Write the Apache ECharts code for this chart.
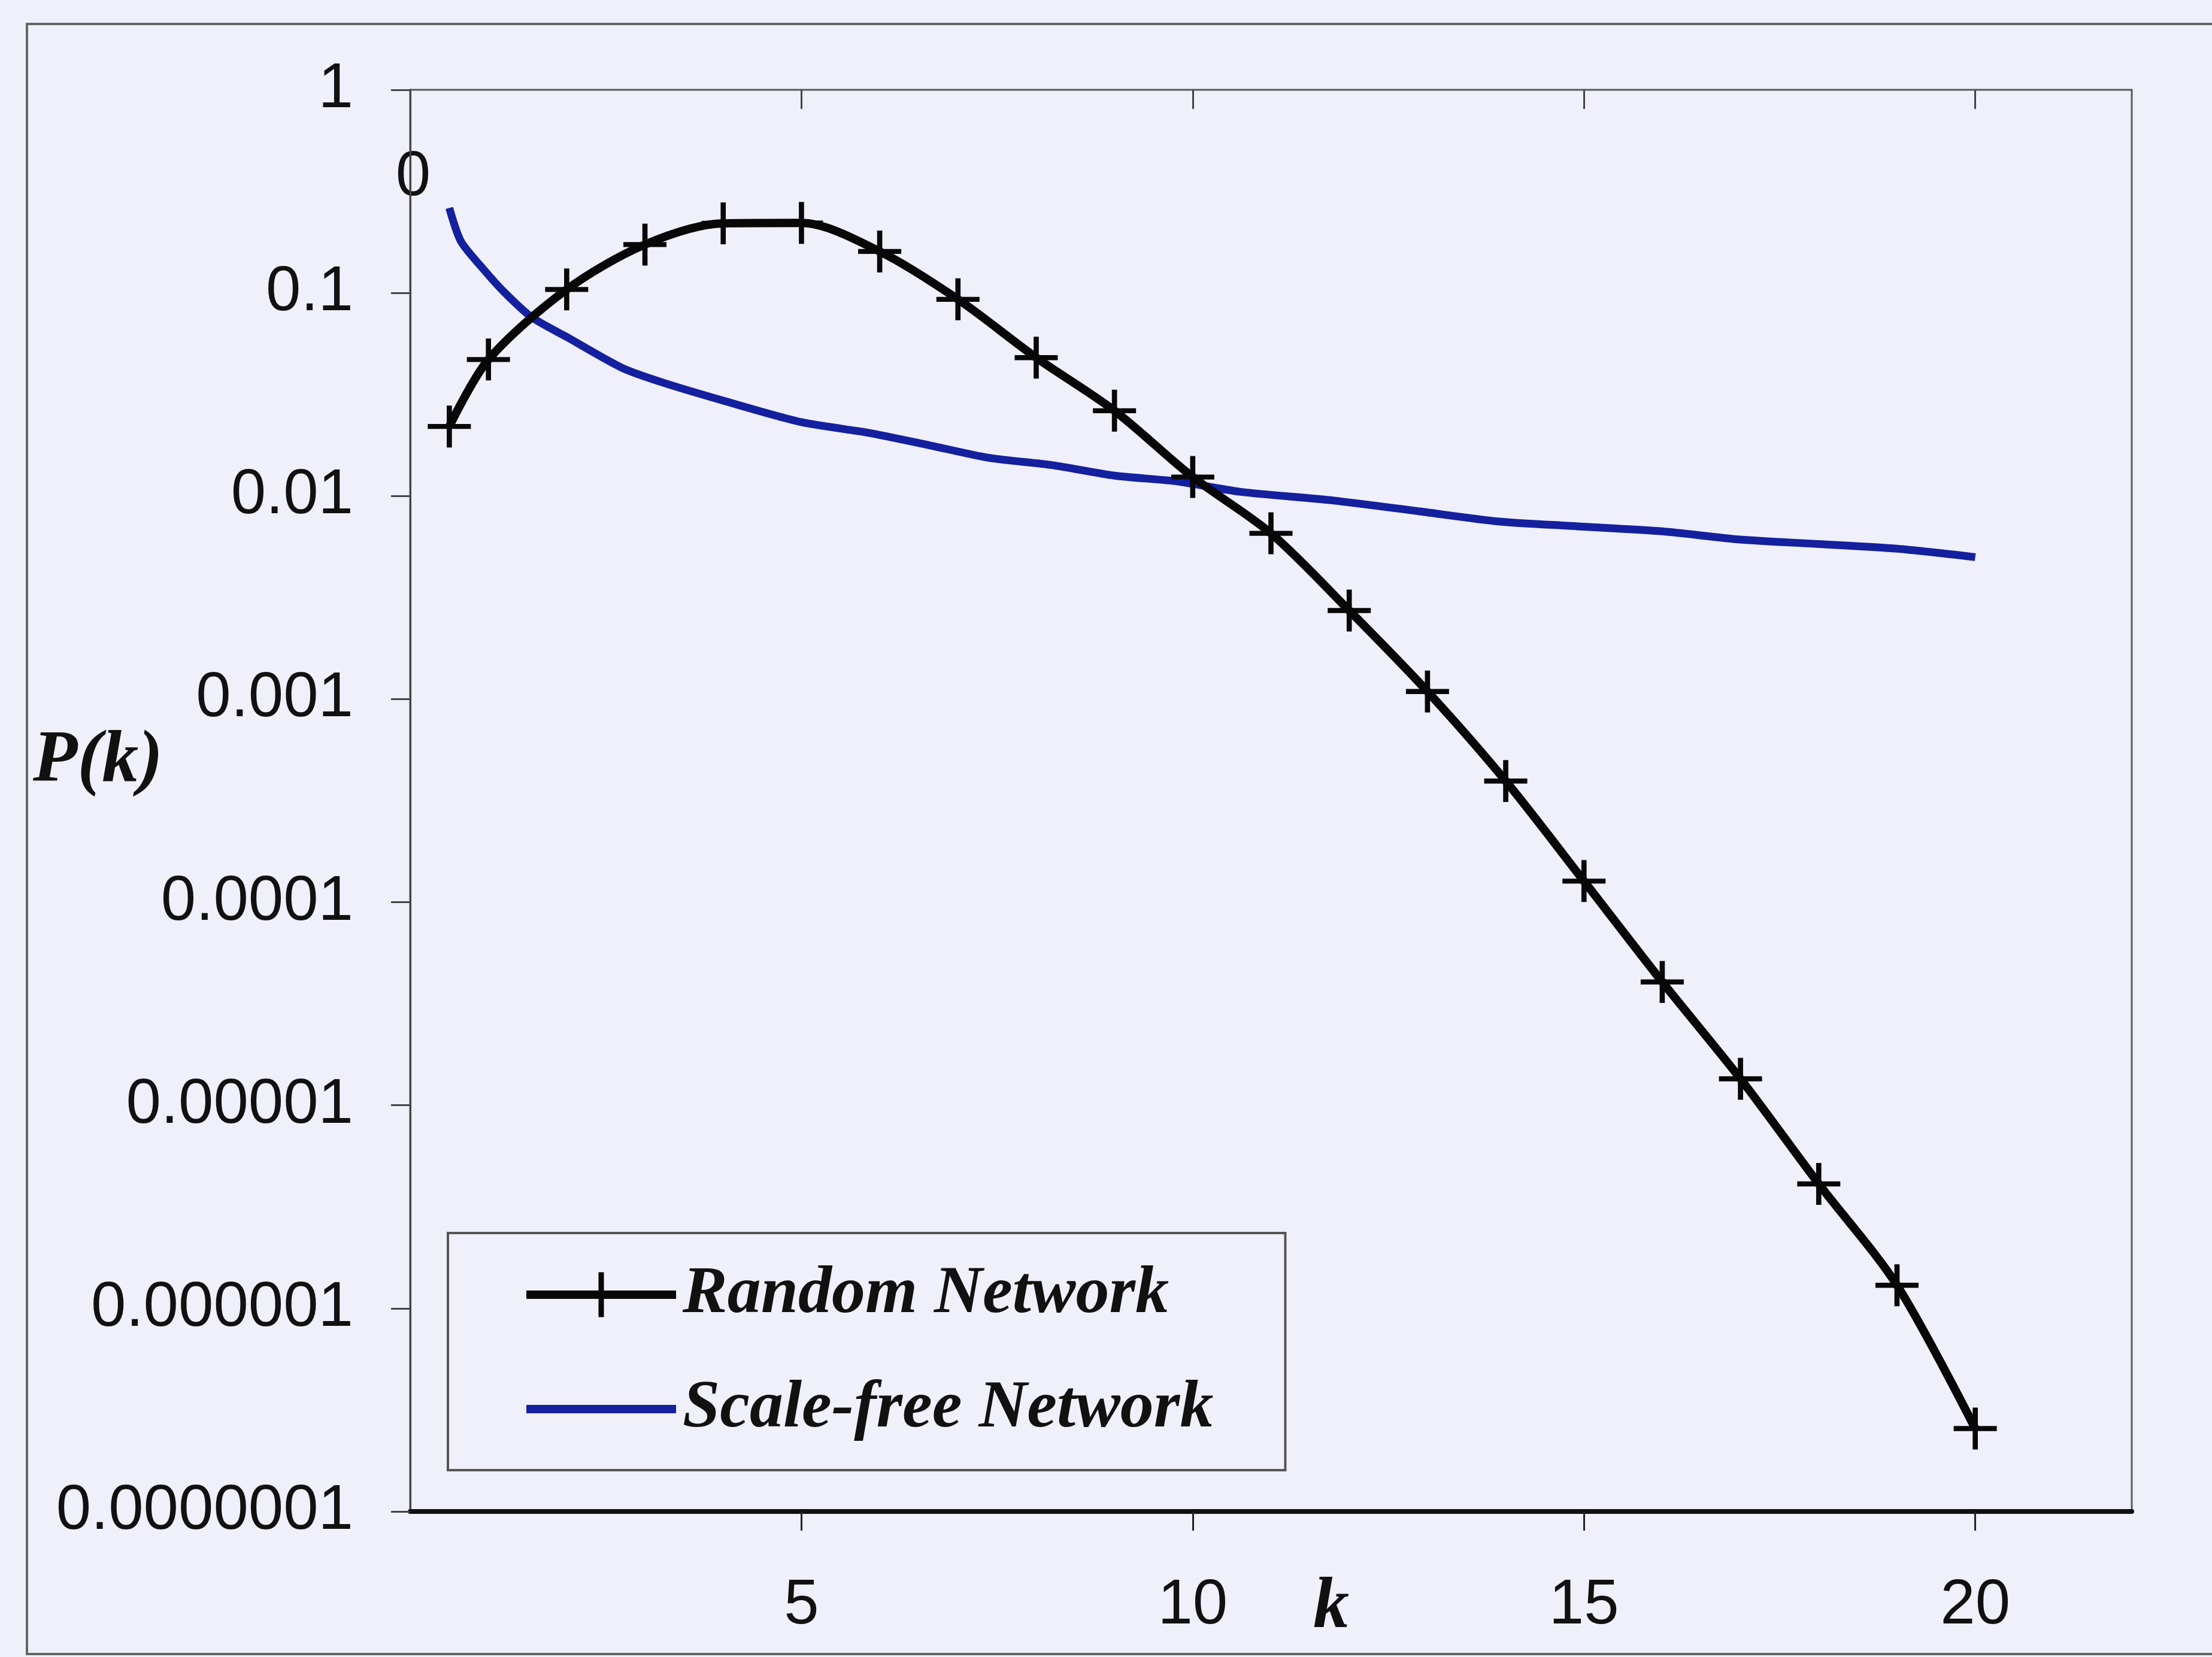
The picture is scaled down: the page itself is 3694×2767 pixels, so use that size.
<!DOCTYPE html>
<html>
<head>
<meta charset="utf-8">
<script src="https://cdn.jsdelivr.net/npm/echarts@6/dist/echarts.min.js"></script>
<style>
html,body{margin:0;padding:0;background:#eff0f9;}
#c{width:3694px;height:2767px;}
</style>
</head>
<body>
<div id="c"></div>
<script>
// ---- data ----
const randomK = [0.5, 1, 2, 3, 4, 5, 6, 7, 8, 9, 10, 11, 12, 13, 14, 15, 16, 17, 18, 19, 20];
const randomP = [0.022, 0.047, 0.104, 0.173, 0.220, 0.221, 0.160, 0.093, 0.048, 0.0263, 0.0124,
                 0.00655, 0.00273, 0.00109, 0.000395, 0.000127, 0.0000405, 0.0000135, 0.0000041, 0.0000013, 0.000000256];
const scaleFreeK = [0.5, 0.65, 0.95, 1.2, 1.55, 2, 2.7, 3.2, 4, 5, 5.85, 6.6, 7.4, 8.2, 9, 9.8, 10.6,
                    11.8, 12.9, 13.9, 14.9, 16, 17, 18, 19, 20];
const scaleFreeP = [0.262, 0.179, 0.129, 0.101, 0.076, 0.0607, 0.0429, 0.0365, 0.0295, 0.0231, 0.0205,
                    0.0179, 0.0154, 0.0142, 0.0126, 0.0118, 0.0105, 0.0095, 0.0084, 0.0075, 0.0071,
                    0.0067, 0.0061, 0.0058, 0.0055, 0.0050];
const xTickValues = [5, 10, 15, 20];
const yTickLabels = ['1', '0.1', '0.01', '0.001', '0.0001', '0.00001', '0.000001', '0.0000001'];
const seriesNames = ['Random Network', 'Scale-free Network'];
const yAxisTitle = 'P(k)';
const xAxisTitle = 'k';
const strayLabel = '0';

const SANS = "'Liberation Sans', Arial, sans-serif";
const SERIF = "'Liberation Serif', 'Times New Roman', serif";
const PLUS = 'path://M0,44h100v12h-100z M44,0h12v100h-12z';
const BLACK = '#080808';
const BLUE = '#14209e';

const chart = echarts.init(document.getElementById('c'), null, {renderer: 'canvas'});

const option = {
  animation: false,
  backgroundColor: '#eff0f9',
  grid: {
    left: 685, top: 150, right: 134, bottom: 243,
    show: true, borderColor: '#5a5a5a', borderWidth: 3, backgroundColor: 'transparent'
  },
  xAxis: [
    {
      type: 'value', min: 0, max: 22, position: 'bottom',
      axisLine: {show: true, onZero: false, lineStyle: {color: '#111', width: 8}},
      axisTick: {show: true, inside: false, length: 32, customValues: xTickValues,
                 lineStyle: {color: '#222', width: 3}},
      axisLabel: {customValues: xTickValues, margin: 106, fontSize: 105, color: '#111', fontFamily: SANS},
      splitLine: {show: false}
    },
    {
      type: 'value', min: 0, max: 22, position: 'top',
      axisLine: {show: false},
      axisTick: {show: true, inside: true, length: 32, customValues: xTickValues,
                 lineStyle: {color: '#444', width: 3}},
      axisLabel: {show: false},
      splitLine: {show: false}
    }
  ],
  yAxis: {
    type: 'log', logBase: 10, min: 1e-7, max: 1,
    axisLine: {show: true, lineStyle: {color: '#444', width: 3}},
    axisTick: {show: true, length: 32, lineStyle: {color: '#444', width: 3}},
    axisLabel: {
      margin: 95, fontSize: 105, color: '#111', fontFamily: SANS,
      formatter: function (v) { return yTickLabels[Math.round(-Math.log10(v))] || ''; }
    },
    splitLine: {show: false},
    minorTick: {show: false}
  },
  legend: {
    orient: 'vertical', left: 748, top: 2059,
    padding: [47, 120, 46, 124],
    itemWidth: 250, itemHeight: 94, itemGap: 79,
    borderColor: '#555', borderWidth: 4, backgroundColor: 'transparent',
    selectedMode: false,
    lineStyle: {width: 14},
    data: [
      {name: seriesNames[0], lineStyle: {width: 14, color: BLACK}, itemStyle: {color: BLACK}},
      {name: seriesNames[1], lineStyle: {width: 14, color: BLUE}, itemStyle: {color: 'rgba(0,0,0,0)', opacity: 0, borderWidth: 0}}
    ],
    textStyle: {fontFamily: SERIF, fontStyle: 'italic', fontWeight: 'bold', fontSize: 112,
                lineHeight: 112, color: '#111', padding: [0, 0, 0, 6]}
  },
  series: [
    {
      name: seriesNames[1], type: 'line', xAxisIndex: 0,
      data: scaleFreeK.map((k, i) => [k, scaleFreeP[i]]),
      symbol: 'none', smooth: 0.25,
      lineStyle: {color: BLUE, width: 13},
      itemStyle: {color: BLUE},
      z: 2
    },
    {
      name: seriesNames[0], type: 'line', xAxisIndex: 0,
      data: randomK.map((k, i) => [k, randomP[i]]),
      symbol: PLUS, symbolSize: [72, 70], showSymbol: true, smooth: 0.3,
      lineStyle: {color: BLACK, width: 14},
      itemStyle: {color: BLACK, borderWidth: 0},
      z: 3
    }
  ],
  graphic: [
    {
      type: 'rect', silent: true, z: 0,
      shape: {x: 45, y: 40, width: 3700, height: 2722},
      style: {fill: 'none', stroke: '#666', lineWidth: 4}
    },
    {
      type: 'text', silent: true,
      style: {text: yAxisTitle, x: 55, y: 1272, font: 'italic bold 122px ' + SERIF,
              fill: '#111', textAlign: 'left', textVerticalAlign: 'middle'}
    },
    {
      type: 'text', silent: true,
      style: {text: xAxisTitle, x: 2223, y: 2686, font: 'italic bold 120px ' + SERIF,
              fill: '#111', textAlign: 'center', textVerticalAlign: 'middle'}
    },
    {
      type: 'text', silent: true,
      style: {text: strayLabel, x: 690, y: 297, font: '105px ' + SANS,
              fill: '#111', textAlign: 'center', textVerticalAlign: 'middle'}
    }
  ]
};
chart.setOption(option);
</script>
</body>
</html>
